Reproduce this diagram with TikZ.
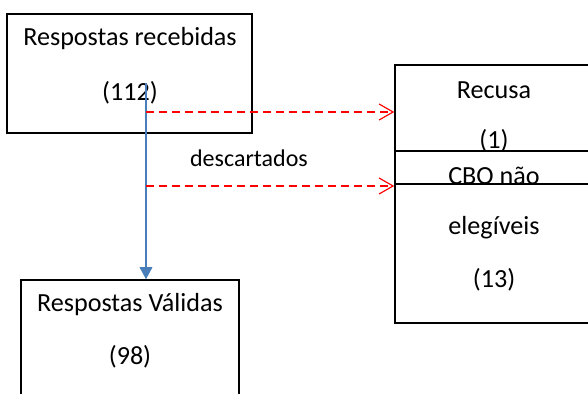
\documentclass[tikz,border=0pt]{standalone}
\usepackage{fontspec}
\setmainfont{Carlito}
\usetikzlibrary{positioning, arrows.meta}
\definecolor{azul}{RGB}{74,126,187}
\tikzset{
    caixa/.style={
        rectangle,
        draw=black,          % schwarze Kontur
        line width=1.3pt,
        inner sep=0pt
    },
    rotulo/.style={
        font=\fontsize{22.3}{26}\selectfont,
        inner sep=0pt
    },
    valida/.style={
        draw=azul,
        line width=1pt,
        -{Triangle[length=3.6mm,width=3.8mm]}
    },
    descarte/.style={
        draw=red,
        line width=1pt,
        dash pattern=on 2.4mm off 1.5mm,
        -{Straight Barb[length=4.2mm,width=4.8mm,line width=1pt]}
    }
}

\begin{document}
\begin{tikzpicture}[x=0.03cm, y=-0.03cm]

    % Bildausschnitt wie in der Vorlage (588 x 394 Pixel)
    \useasboundingbox (0,0) rectangle (588,394);
    \clip (0,0) rectangle (588,394);

    % Kästen
    \node[caixa, minimum width=245*0.03cm, minimum height=119*0.03cm] (recebidas) at (129.5,73.5) {};
    \node[caixa, minimum width=245*0.03cm, minimum height=172*0.03cm] (cbo) at (517.5,237) {};
    \node[caixa, minimum width=245*0.03cm, minimum height=119*0.03cm] (recusa) at (517.5,124.5) {};
    \node[caixa, minimum width=218*0.03cm, minimum height=119*0.03cm] (validas) at (130,339.5) {};

    % Texte
    \node[rotulo] (t1) at (130,39) {Respostas recebidas};
    \node[rotulo] (t2) at (130,93) {(112)};
    \node[rotulo] (t3) at (494,90) {Recusa};
    \node[rotulo] (t4) at (494,141) {(1)};
    \node[rotulo] (t5) at (494,176) {CBO não};
    \node[rotulo] (t6) at (494,228) {elegíveis};
    \node[rotulo] (t7) at (494,280) {(13)};
    \node[rotulo] (t8) at (130,305) {Respostas Válidas};
    \node[rotulo] (t9) at (130,357) {(98)};
    \node[rotulo, font=\fontsize{20.5}{24}\selectfont] (descartados) at (249,158) {descartados};

    % Verbindungen
    \coordinate (ini) at (146,83);
    \coordinate (d1) at (146,112);
    \coordinate (d2) at (146,186);
    \draw[valida] (ini) -- (ini |- validas.north);
    \draw[descarte] (d1) -- (d1 -| recusa.west);
    \draw[descarte] (d2) -- (d2 -| cbo.west);

\end{tikzpicture}
\end{document}
